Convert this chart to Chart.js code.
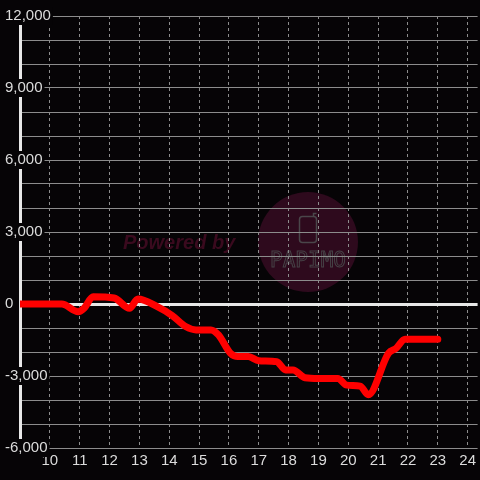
<!DOCTYPE html>
<html><head><meta charset="utf-8">
<script src="https://cdn.jsdelivr.net/npm/chart.js@4/dist/chart.umd.min.js"></script>
<style>html,body{margin:0;padding:0;background:#060406;}#wrap{width:480px;height:480px;}</style>
</head><body><div id="wrap"><canvas id="c" width="480" height="480"></canvas></div>
<script>
const hours  = [9, 10.4, 10.95, 11.15, 11.45, 12.15, 12.67, 12.95, 13.6, 14.1, 14.55, 14.9, 15.4, 15.65, 16.05, 16.3, 16.65, 17.0, 17.6, 17.9, 18.15, 18.55, 19.0, 19.65, 19.95, 20.4, 20.67, 21.35, 21.6, 21.9, 23.0];
const values = [0, 0, -320, -170, 300, 250, -180, 210, -110, -480, -940, -1080, -1080, -1290, -2050, -2190, -2190, -2360, -2400, -2750, -2750, -3070, -3100, -3100, -3380, -3420, -3780, -2050, -1850, -1470, -1470];
const xTickValues = [9, 10, 11, 12, 13, 14, 15, 16, 17, 18, 19, 20, 21, 22, 23, 24];
const xTickLabels = ['', '10', '11', '12', '13', '14', '15', '16', '17', '18', '19', '20', '21', '22', '23', '24'];
const yTickValues = [-6000, -5000, -4000, -3000, -2000, -1000, 0, 1000, 2000, 3000, 4000, 5000, 6000, 7000, 8000, 9000, 10000, 11000, 12000];
const yLabelValues = [-6000, -3000, 0, 3000, 6000, 9000, 12000];
const yLabelTexts = ['-6,000', '-3,000', '0', '3,000', '6,000', '9,000', '12,000'];

const BG = '#060406';
const TXT = '#dcdcdc';
const GRID = '#8c8c8c';
const FONT = {family: "'Liberation Sans', Arial, sans-serif", size: 15};

const bgPlugin = {
  id: 'bg',
  beforeDraw(chart) {
    const ctx = chart.ctx;
    ctx.save();
    ctx.fillStyle = BG;
    ctx.fillRect(0, 0, chart.width, chart.height);
    // watermark
    ctx.fillStyle = '#2e0a1d';
    ctx.beginPath();
    ctx.arc(308, 242, 50, 0, Math.PI * 2);
    ctx.fill();
    ctx.fillStyle = '#3a0a1e';
    ctx.font = "italic bold 20px 'Liberation Sans', Arial, sans-serif";
    ctx.textBaseline = 'alphabetic';
    ctx.textAlign = 'left';
    ctx.fillText('Powered by', 123, 249);
    ctx.strokeStyle = '#4a464a';
    ctx.lineWidth = 1.5;
    ctx.beginPath();
    if (ctx.roundRect) ctx.roundRect(299.5, 216.5, 17, 26, 3); else ctx.rect(299.5, 216.5, 17, 26);
    ctx.stroke();
    ctx.beginPath();
    ctx.moveTo(313.5, 216.5); ctx.lineTo(313.5, 213.5); ctx.lineTo(316.5, 213.5);
    ctx.stroke();
    ctx.lineWidth = 1;
    ctx.strokeStyle = '#464246';
    ctx.font = "21px 'DejaVu Sans Mono', monospace";
    ctx.textAlign = 'center';
    ctx.strokeText('PAPIMO', 308, 267);
    ctx.restore();
  }
};

new Chart(document.getElementById('c'), {
  type: 'line',
  data: {
    datasets: [{
      data: hours.map((h, i) => ({x: h, y: values[i]})),
      borderColor: '#ff0000',
      borderWidth: 7,
      pointRadius: 0,
      fill: false,
      cubicInterpolationMode: 'monotone',
      borderCapStyle: 'round',
      borderJoinStyle: 'round'
    }]
  },
  options: {
    responsive: false,
    animation: false,
    devicePixelRatio: 1,
    layout: {padding: {left: 5, top: 16, right: 0, bottom: 0}},
    plugins: {legend: {display: false}, tooltip: {enabled: false}},
    scales: {
      x: {
        type: 'linear',
        min: 9,
        max: 24.333,
        afterBuildTicks: s => { s.ticks = xTickValues.map(v => ({value: v})); },
        afterFit: s => { s.height = 32; },
        ticks: {
          callback: (v) => xTickLabels[xTickValues.indexOf(v)] ?? '',
          font: FONT, color: TXT, padding: 4, maxRotation: 0, autoSkip: false
        },
        grid: {
          color: c => (c.tick && c.tick.value === 9) ? 'rgba(0,0,0,0)' : GRID,
          lineWidth: 1, drawTicks: false
        },
        border: {display: false, dash: [3, 3]}
      },
      y: {
        min: -6000,
        max: 12000,
        afterBuildTicks: s => { s.ticks = yTickValues.map(v => ({value: v})); },
        afterFit: s => { s.width = 15; },
        ticks: {
          callback: (v) => { const i = yLabelValues.indexOf(v); return i >= 0 ? yLabelTexts[i] : ''; },
          font: FONT, color: TXT, mirror: true, padding: -15,
          showLabelBackdrop: c => !!(c.tick && yLabelValues.includes(c.tick.value)),
          backdropColor: BG,
          backdropPadding: {top: 0, bottom: 0, left: 2, right: 2}
        },
        grid: {
          color: c => (c.tick && c.tick.value === 0) ? '#e8e8e8' : GRID,
          lineWidth: c => (c.tick && c.tick.value === 0) ? 3 : 1,
          drawTicks: false
        },
        border: {display: true, color: '#e8e8e8', width: 3}
      }
    }
  },
  plugins: [bgPlugin]
});
</script>
</body></html>
